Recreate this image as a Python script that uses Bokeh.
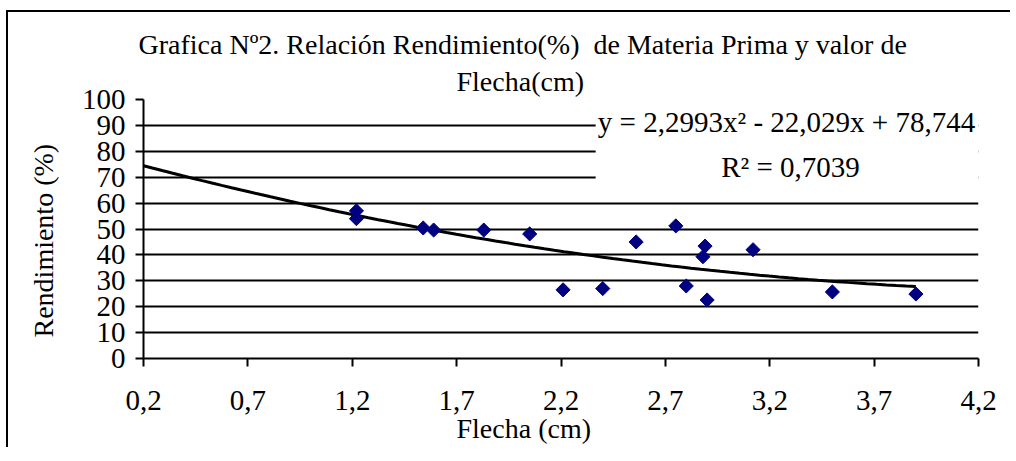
import numpy as np
from bokeh.plotting import figure
from bokeh.models import FixedTicker, Label, BoxAnnotation, Title
from bokeh.embed import file_html
from bokeh.resources import INLINE

# ---- data ----
flecha = [1.22, 1.22, 1.54, 1.59, 1.83, 2.05, 2.21, 2.40, 2.56, 2.75, 2.80, 2.89, 2.88, 2.90, 3.12, 3.50, 3.90]
rendimiento = [57.0, 54.0, 50.4, 49.6, 49.6, 48.1, 26.5, 27.0, 45.0, 51.2, 28.0, 43.4, 39.3, 22.6, 42.0, 25.7, 24.9]

# polynomial trend line shown on the chart: y = a x^2 + b x + c
trend_coef = [2.2993, -22.029, 78.744]
trend_range = [0.2, 3.9]

x_ticks = [0.2, 0.7, 1.2, 1.7, 2.2, 2.7, 3.2, 3.7, 4.2]
x_tick_labels = ["0,2", "0,7", "1,2", "1,7", "2,2", "2,7", "3,2", "3,7", "4,2"]
y_ticks = [0, 10, 20, 30, 40, 50, 60, 70, 80, 90, 100]
grid_ticks = [10, 20, 30, 40, 50, 60, 70, 80, 90]

title_lines = ["Grafica Nº2. Relación Rendimiento(%)\u00a0 de Materia Prima y valor de", "Flecha(cm)"]
x_title = "Flecha (cm)"
y_title = "Rendimiento (%)"
eq_text = "y = 2,2993x² - 22,029x + 78,744"
r2_text = "R² = 0,7039"

FONT = "Liberation Serif"
FS = "28px"
FS_T = "29px"

# canvas origin on page assumed at (8, 12)
p = figure(frame_width=835, frame_height=259,
           min_border_left=135, min_border_right=32, min_border_top=87, min_border_bottom=89,
           x_range=(0.2, 4.2), y_range=(0, 100),
           output_backend="svg", toolbar_location=None,
           styles={"border-left": "2px solid black", "border-top": "2px solid black",
                   "margin-left": "6px", "margin-top": "10px"})
p.outline_line_color = None
p.background_fill_color = "white"
p.border_fill_color = "white"

# axes
for ax in (p.xaxis[0], p.yaxis[0]):
    ax.axis_line_color = "black"
    ax.axis_line_width = 2
    ax.major_tick_line_color = "black"
    ax.major_tick_line_width = 2
    ax.major_tick_out = 8
    ax.major_tick_in = 0
    ax.minor_tick_line_color = None
    ax.major_label_text_font = FONT
    ax.major_label_text_font_size = FS_T
    ax.major_label_text_color = "black"

p.xaxis.ticker = FixedTicker(ticks=x_ticks)
p.xaxis.major_label_overrides = {t: s for t, s in zip(x_ticks, x_tick_labels)}
p.xaxis.major_label_standoff = 24
p.yaxis.ticker = FixedTicker(ticks=y_ticks)
p.yaxis.major_label_standoff = 10

p.xgrid.grid_line_color = None
p.ygrid.ticker = FixedTicker(ticks=grid_ticks)
p.ygrid.grid_line_color = "black"
p.ygrid.grid_line_width = 2
p.ygrid.grid_line_alpha = 1.0

# trend line
xt = np.linspace(trend_range[0], trend_range[1], 80)
yt = np.polyval(trend_coef, xt)
p.line(xt, yt, line_color="black", line_width=3)

# data points (diamonds)
p.scatter(flecha, rendimiento, marker="square", size=10, angle=np.pi / 4,
          fill_color="#000080", line_color="#000080")

# white box behind the equation
p.add_layout(BoxAnnotation(left=2.366, right=4.2, bottom=65, top=96,
                           fill_color="white", fill_alpha=1.0, line_color=None))

FL, FB = 143.0, 358.5  # page position of frame left / bottom
RAISE = 12


def lab(text, px, py, size=FS_T):
    p.add_layout(Label(x=px - FL, y=FB - py + RAISE, x_units="screen", y_units="screen",
                       text=text, text_font=FONT, text_font_size=size, text_color="black",
                       text_align="center", text_baseline="alphabetic"))


lab(eq_text, 786, 134)
lab(r2_text, 790, 178.5)


def ttl(text, offset, standoff, valign="bottom"):
    return Title(text=text, align="left", offset=offset, standoff=standoff,
                 vertical_align=valign, text_font=FONT, text_font_size=FS,
                 text_font_style="normal", text_color="black")


# titles above the frame (first added is nearest the frame)
p.add_layout(ttl(title_lines[1], 313, 6), "above")
p.add_layout(ttl(title_lines[0], -5, 2), "above")
# axis titles
p.add_layout(ttl(x_title, 313, 0, "top"), "below")
p.add_layout(ttl(y_title, 21, 36, "top"), "left")

open("out.html", "w").write(file_html(p, INLINE))
